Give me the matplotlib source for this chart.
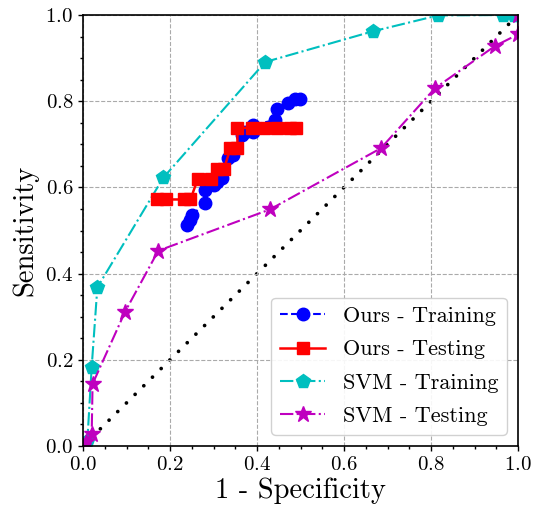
import matplotlib
matplotlib.use("Agg")
import matplotlib.pyplot as plt
from matplotlib.ticker import MultipleLocator

plt.rcParams['font.family'] = ['cmr10', 'DejaVu Serif']
plt.rcParams['mathtext.fontset'] = 'cm'
plt.rcParams['axes.unicode_minus'] = False
plt.rcParams['axes.formatter.use_mathtext'] = True

# Ours - Training
ours_train_fpr = [0.238, 0.245, 0.251, 0.280, 0.280, 0.300, 0.307, 0.319, 0.334, 0.345,
                  0.365, 0.372, 0.390, 0.390, 0.441, 0.445, 0.472, 0.487, 0.499]
ours_train_tpr = [0.513, 0.525, 0.536, 0.563, 0.594, 0.605, 0.613, 0.621, 0.668, 0.675,
                  0.722, 0.729, 0.729, 0.745, 0.756, 0.782, 0.795, 0.805, 0.805]

# Ours - Testing
ours_test_fpr = [0.171, 0.190, 0.233, 0.247, 0.264, 0.294, 0.308, 0.324, 0.339, 0.355,
                 0.355, 0.388, 0.415, 0.445, 0.476, 0.490]
ours_test_tpr = [0.572, 0.572, 0.572, 0.572, 0.620, 0.620, 0.643, 0.643, 0.691, 0.691,
                 0.738, 0.738, 0.738, 0.738, 0.738, 0.738]

# SVM - Training
svm_train_fpr = [0.0, 0.010, 0.020, 0.033, 0.185, 0.419, 0.666, 0.816, 0.966, 0.990, 1.0]
svm_train_tpr = [0.0, 0.012, 0.184, 0.368, 0.623, 0.891, 0.962, 0.999, 1.0, 1.0, 1.0]

# SVM - Testing
svm_test_fpr = [0.0, 0.008, 0.020, 0.022, 0.097, 0.173, 0.430, 0.685, 0.809, 0.947, 1.0, 1.0]
svm_test_tpr = [0.0, 0.010, 0.029, 0.144, 0.312, 0.453, 0.549, 0.691, 0.830, 0.928, 0.955, 1.0]

chance = [0.0, 1.0]

fig = plt.figure(figsize=(5.35, 5.07), dpi=100)
ax = fig.add_axes([83/535, 1-446/507, (518-83)/535, (446-15)/507])

ax.plot(chance, chance, color='k', lw=2.7, dashes=(0.01, 3.25),
        dash_capstyle='round', zorder=1)

ax.plot(ours_train_fpr, ours_train_tpr, 'b--o', lw=1.5, ms=9,
        label='Ours - Training', zorder=3)
ax.plot(ours_test_fpr, ours_test_tpr, 'r-s', lw=1.8, ms=9,
        label='Ours - Testing', zorder=4)
ax.plot(svm_train_fpr, svm_train_tpr, 'c-.p', lw=1.5, ms=10,
        label='SVM - Training', zorder=2)
ax.plot(svm_test_fpr, svm_test_tpr, 'm-.*', lw=1.5, ms=12,
        label='SVM - Testing', zorder=2)

ax.set_xlim(0, 1)
ax.set_ylim(0, 1)
ax.xaxis.set_major_locator(MultipleLocator(0.2))
ax.yaxis.set_major_locator(MultipleLocator(0.2))
ax.xaxis.set_minor_locator(MultipleLocator(0.05))
ax.yaxis.set_minor_locator(MultipleLocator(0.05))
ax.tick_params(which='both', direction='out', top=False, right=False,
               labelsize=15, width=1)
ax.tick_params(which='major', length=3.5)
ax.tick_params(which='minor', length=2.5)
ax.grid(True, which='major', linestyle='--', color='#aaaaaa', lw=0.8)
for s in ax.spines.values():
    s.set_linewidth(1.2)

ax.set_xlabel('1 - Specificity', fontsize=20.5, labelpad=3)
ax.set_ylabel('Sensitivity', fontsize=20.5, labelpad=5)

ax.legend(loc='lower right', fontsize=16, framealpha=0.9, edgecolor='#cccccc',
          labelspacing=0.62, handlelength=2.0)

fig.savefig('out.png', dpi=100)
